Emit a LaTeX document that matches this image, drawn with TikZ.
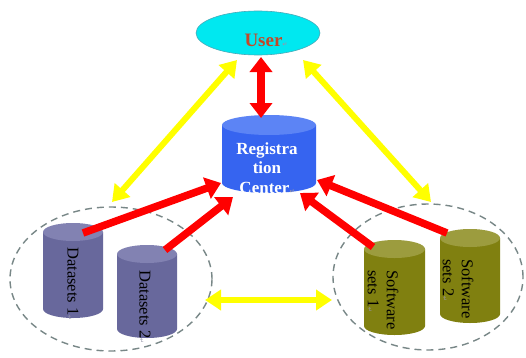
\documentclass[tikz,border=0pt]{standalone}
\usepackage{fontspec}
\setmainfont{Liberation Serif}
\newfontfamily\symfont{DejaVu Sans}
\usetikzlibrary{arrows.meta,shapes.geometric}

\definecolor{usercyan}{RGB}{0,232,240}
\definecolor{userborder}{RGB}{70,170,185}
\definecolor{usertext}{RGB}{196,72,40}
\definecolor{rcbody}{RGB}{54,100,240}
\definecolor{rctop}{RGB}{92,132,245}
\definecolor{dsbody}{RGB}{104,104,156}
\definecolor{dstop}{RGB}{130,130,178}
\definecolor{swbody}{RGB}{128,128,16}
\definecolor{swtop}{RGB}{156,156,62}
\definecolor{ringgray}{RGB}{120,135,135}
\definecolor{arrowred}{RGB}{255,0,0}
\definecolor{arrowyellow}{RGB}{255,255,0}
\definecolor{retgray}{RGB}{150,150,170}

% paragraph mark printed after several labels
\newcommand\ret{{\symfont\fontsize{6}{6}\selectfont\color{retgray}↵}}

% vertical cylinder: centre x, radius x, top rim y, bottom rim y, rim radius y, body colour, top colour
\newcommand\mycyl[7]{%
  \fill[#6] (#1-#2,#3) -- (#1-#2,#4)
     arc[start angle=180,end angle=360,x radius=#2pt,y radius=#5pt]
     -- (#1+#2,#3) -- cycle;
  \fill[#7] (#1,#3) ellipse[x radius=#2pt,y radius=#5pt];
}

\tikzset{
  ring/.style={draw=ringgray,line width=1.4pt,dash pattern=on 7pt off 5pt},
  redarrow/.style={draw=arrowred,line width=7.5pt,
     -{Triangle[width=22pt,length=15pt,fill=arrowred]}},
  redboth/.style={draw=arrowred,line width=7.5pt,
     {Triangle[width=22pt,length=15pt,fill=arrowred]}-{Triangle[width=22pt,length=15pt,fill=arrowred]}},
  yellowboth/.style={draw=arrowyellow,line width=6pt,
     {Triangle[width=20pt,length=16pt,fill=arrowyellow]}-{Triangle[width=20pt,length=16pt,fill=arrowyellow]}},
  cyllabel/.style={font=\fontsize{16.5}{19}\selectfont,text=black,inner sep=0pt,rotate=-90,align=left},
}

\begin{document}
\begin{tikzpicture}[x=1pt,y=1pt]
\useasboundingbox[fill=white] (0,0) rectangle (526,357);

% groups
\draw[ring] (111,78) ellipse[x radius=101pt,y radius=72pt];
\draw[ring] (428,80) ellipse[x radius=95pt,y radius=73pt];

% user
\node[ellipse,draw=userborder,fill=usercyan,line width=0.6pt,
      minimum width=124pt,minimum height=44pt,inner sep=0pt] (user) at (258,324) {};
\node[font=\fontsize{19}{19}\selectfont\bfseries,text=usertext,inner sep=0pt] (usertxt) at (266,317) {User\ret};

% registration centre
\mycyl{269}{47}{232}{174}{10}{rcbody}{rctop}
\node[font=\fontsize{17}{19.5}\selectfont\bfseries,text=white,align=center,inner sep=0pt] (rc) at (267,189) {Registra\\tion\\Center\ret};

% datasets
\mycyl{73}{30}{125}{48}{9}{dsbody}{dstop}
\mycyl{147}{30}{103}{28}{9}{dsbody}{dstop}
\node[cyllabel] (ds1) at (73,73) {Datasets 1\ret};
\node[cyllabel] (ds2) at (145,50) {Datasets 2\ret};

% software sets
\mycyl{394.5}{30.5}{108}{31}{9}{swbody}{swtop}
\mycyl{470}{30}{119}{43}{9}{swbody}{swtop}
\node[cyllabel] (sw1) at (383,57) {Software\\sets 1\ret};
\node[cyllabel] (sw2) at (458,68) {Software\\sets 2\ret};

% connector end points
\coordinate (uBot) at (261,300);
\coordinate (rcTop) at (261,239);
\coordinate (uLeft) at (237,297);
\coordinate (gLeft) at (112,155);
\coordinate (uRight) at (303,297);
\coordinate (gRight) at (431,155);
\coordinate (gLeftE) at (205,57);
\coordinate (gRightW) at (332,57);
\coordinate (ds1Top) at (83,124);
\coordinate (ds2Top) at (165,107);
\coordinate (sw1Top) at (373,110);
\coordinate (sw2Top) at (447,124);
\coordinate (rcW) at (221,174);
\coordinate (rcSW) at (233,160);
\coordinate (rcSE) at (300,164);
\coordinate (rcE) at (317,177);

% yellow links
\draw[yellowboth] (uLeft) -- (gLeft);
\draw[yellowboth] (uRight) -- (gRight);
\draw[yellowboth] (gLeftE) -- (gRightW);

% red links
\draw[redboth] (uBot) -- (rcTop);
\draw[redarrow] (ds1Top) -- (rcW);
\draw[redarrow] (ds2Top) -- (rcSW);
\draw[redarrow] (sw1Top) -- (rcSE);
\draw[redarrow] (sw2Top) -- (rcE);
\end{tikzpicture}
\end{document}
